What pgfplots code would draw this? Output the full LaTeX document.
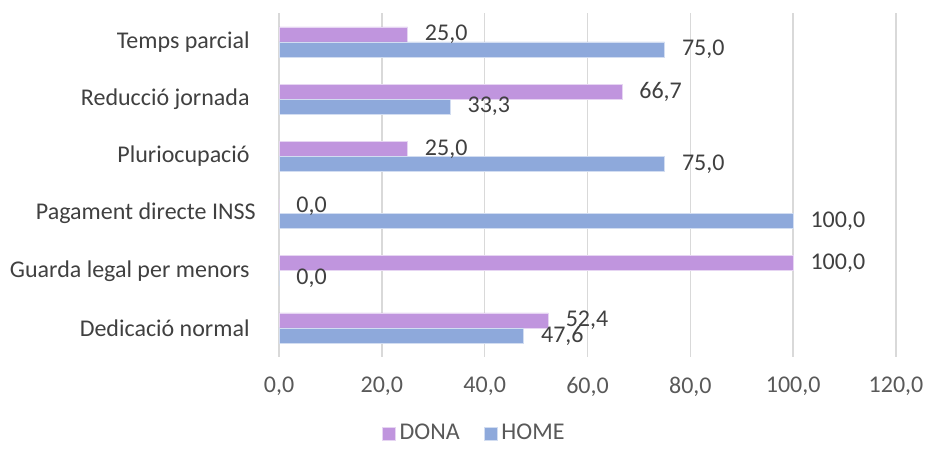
\documentclass[border=0pt,12pt]{standalone}
\usepackage{fontspec}
\setmainfont{Carlito}
\usepackage{pgfplots}
\pgfplotsset{compat=1.18}
\definecolor{dona}{HTML}{C095DE}
\definecolor{home}{HTML}{8EA9DB}
\definecolor{gridc}{HTML}{D9D9D9}
\definecolor{txt}{HTML}{404040}
\definecolor{tick}{HTML}{595959}
\begin{document}
\begin{tikzpicture}
\begin{axis}[
  at={(139.5pt,46.2pt)}, anchor=south west,
  scale only axis, width=308.5pt, height=171.6pt,
  xbar, bar width=7.5pt,
  xmin=0, xmax=120, ymin=-0.5, ymax=5.5,
  xtick={0,20,40,60,80,100,120},
  xticklabels={{0,0},{20,0},{40,0},{60,0},{80,0},{100,0},{120,0}},
  ytick={0,1,2,3,4,5},
  yticklabels={Dedicació normal,Guarda legal per menors,{\makebox[0pt][r]{Pagament directe INSS}\kern-3pt},Pluriocupació,Reducció jornada,Temps parcial},
  xmajorgrids, major grid style={gridc, line width=0.75pt},
  axis line style={draw=none},
  major tick length=0pt,
  xticklabel style={text=tick, yshift=-6pt},
  yticklabel style={text=txt, xshift=-10.5pt},
  point meta=x,
  nodes near coords={\pgfmathprintnumber[fixed,zerofill,precision=1,use comma,assume math mode=true]{\pgfplotspointmeta}},
  nodes near coords style={text=txt, anchor=west, xshift=4.5pt},
  legend columns=2,
  legend style={draw=none, at={(0.318,-0.224)}, anchor=center, text=tick, /tikz/every even column/.append style={column sep=10pt}},
  legend image code/.code={\fill[#1] (-2pt,-3.25pt) rectangle (4.5pt,3.25pt);},
]
\addplot+[bar shift=3.75pt, fill=dona, draw=dona!40!white, line width=0.4pt] coordinates {(52.4,0) (100,1) (0,2) (25,3) (66.7,4) (25,5)};
\addlegendentry{DONA}
\addplot+[bar shift=-3.75pt, fill=home, draw=home!40!white, line width=0.4pt] coordinates {(47.6,0) (0,1) (100,2) (75,3) (33.3,4) (75,5)};
\addlegendentry{HOME}
\end{axis}
\pgfresetboundingbox
\path[use as bounding box] (0,0) rectangle (463pt,224.5pt);
\end{tikzpicture}
\end{document}
